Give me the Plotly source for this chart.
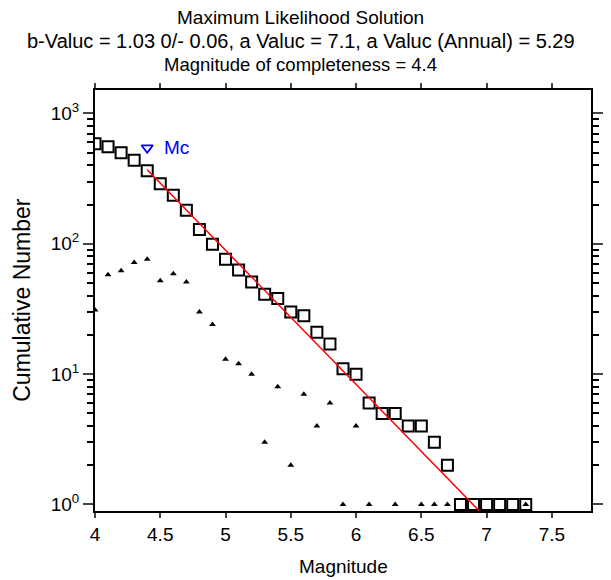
import plotly.graph_objects as go

# Frequency-magnitude data
magnitudes = [4.0, 4.1, 4.2, 4.3, 4.4, 4.5, 4.6, 4.7, 4.8, 4.9,
              5.0, 5.1, 5.2, 5.3, 5.4, 5.5, 5.6, 5.7, 5.8, 5.9,
              6.0, 6.1, 6.2, 6.3, 6.4, 6.5, 6.6, 6.7, 6.8, 6.9,
              7.0, 7.1, 7.2, 7.3]
cumulative = [585, 555, 500, 437, 363, 289, 236, 181, 129, 99,
              76, 63, 51, 41, 38, 30, 28, 21, 17, 11,
              10, 6, 5, 5, 4, 4, 3, 2, 1, 1,
              1, 1, 1, 1]

bin_mags = [4.0, 4.1, 4.2, 4.3, 4.4, 4.5, 4.6, 4.7, 4.8, 4.9,
            5.0, 5.1, 5.2, 5.3, 5.4, 5.5, 5.6, 5.7, 5.8, 5.9,
            6.0, 6.1, 6.3, 6.5, 6.6, 6.7, 7.3]
bin_counts = [31, 58, 62, 72, 76, 52, 59, 51, 30, 24,
              13, 12, 10, 3, 8, 2, 7, 4, 6, 1,
              4, 1, 1, 1, 1, 1, 1]

# fitted Gutenberg-Richter line, end points
fit_mag = [4.4, 6.95]
fit_n = [370, 0.88]

mc_mag = [4.4]
mc_n = [545]

y_tickvals = [1, 10, 100, 1000]
y_ticktext = ['10<sup>0</sup>', '10<sup>1</sup>', '10<sup>2</sup>', '10<sup>3</sup>']
y_minor = [m * 10 ** e for e in range(0, 4) for m in range(2, 10)]
x_tickvals = [4, 4.5, 5, 5.5, 6, 6.5, 7, 7.5]

title_lines = ['Maximum Likelihood Solution',
               'b-Valuc = 1.03 0/- 0.06, a Valuc = 7.1, a Valuc (Annual) = 5.29',
               'Magnitude of completeness = 4.4']

font = 'Liberation Sans, Arial, sans-serif'

W, H = 611, 580
L, T, R, B = 95, 90, 8, 69
pw, ph = W - L - R, H - T - B


def px_x(x):
    return (x - L) / pw


def px_y(y):
    return (H - B - y) / ph


fig = go.Figure()

fig.add_trace(go.Scatter(x=magnitudes, y=cumulative, mode='markers',
                         marker=dict(symbol='square-open', size=11, color='black',
                                     line=dict(width=2, color='black'))))
fig.add_trace(go.Scatter(x=bin_mags, y=bin_counts, mode='markers',
                         marker=dict(symbol='triangle-up', size=6, color='black')))
fig.add_trace(go.Scatter(x=fit_mag, y=fit_n, mode='lines',
                         line=dict(color='red', width=1.5)))
fig.add_trace(go.Scatter(x=mc_mag, y=mc_n, mode='markers',
                         marker=dict(symbol='triangle-down-open', size=10, color='blue',
                                     line=dict(width=1.8, color='blue'))))

annotations = []
for txt, py, fs in zip(title_lines, [17, 41, 64], [19, 20, 18.5]):
    annotations.append(dict(text=txt, xref='paper', yref='paper',
                            x=px_x(305.5), y=px_y(py),
                            xanchor='center', yanchor='middle', showarrow=False,
                            font=dict(size=fs, color='black', family=font)))
annotations.append(dict(text='Mc', x=4.51, y=2.736, xref='x', yref='y',
                        xanchor='left', yanchor='middle', showarrow=False,
                        font=dict(size=19, color='blue', family=font)))
annotations.append(dict(text='Cumulative Number', xref='paper', yref='paper',
                        x=px_x(20), y=px_y(300), textangle=-90,
                        xanchor='center', yanchor='middle', showarrow=False,
                        font=dict(size=23, color='black', family=font)))
annotations.append(dict(text='Magnitude', xref='paper', yref='paper',
                        x=px_x(349), y=px_y(566),
                        xanchor='center', yanchor='middle', showarrow=False,
                        font=dict(size=19, color='black', family=font)))

fig.update_layout(
    width=W, height=H,
    margin=dict(l=L, r=R, t=T, b=B),
    paper_bgcolor='white', plot_bgcolor='white',
    showlegend=False,
    annotations=annotations,
    font=dict(family=font, size=19, color='black'),
)

fig.update_xaxes(range=[4, 7.8], tickvals=x_tickvals, ticks='outside', ticklen=5,
                 tickwidth=1.5, showline=True, linecolor='black', linewidth=2,
                 mirror='ticks', showgrid=False, zeroline=False,
                 tickfont=dict(size=19))
fig.update_yaxes(type='log', range=[-0.05, 3.18], tickvals=y_tickvals, ticktext=y_ticktext,
                 ticks='outside', ticklen=10, tickwidth=1.5,
                 minor=dict(tickvals=y_minor, ticks='outside', ticklen=6, tickwidth=1.5,
                            tickcolor='black'),
                 showline=True, linecolor='black', linewidth=2, mirror='ticks',
                 showgrid=False, zeroline=False, tickfont=dict(size=19))

# drop the default body margin so the figure sits at the page corner
fig.write_html('out.html', config={'displayModeBar': False},
               post_script="document.body.style.margin='0px';")
